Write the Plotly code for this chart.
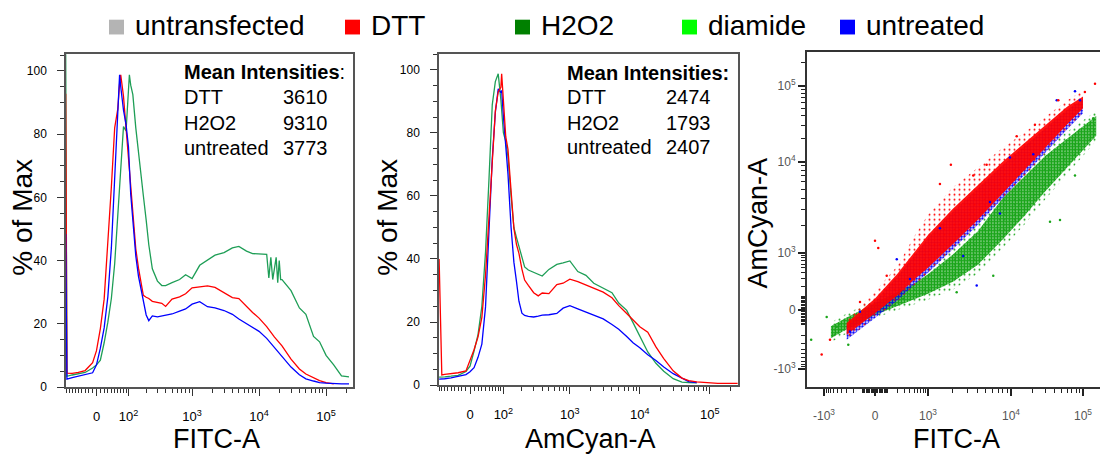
import numpy as np
import plotly.graph_objects as go

W, H = 1100, 459

# ---------------- legend ----------------
LEGEND_LABELS = ["untransfected", "DTT", "H2O2", "diamide", "untreated"]
LEGEND_COLORS = ["#b4b4b4", "#ff0000", "#008000", "#00ff00", "#0000ff"]

C_DTT = "#ff0000"
C_H2O2_LINE = "#1e9e56"
C_H2O2_DOT = "#1aa51a"
C_UNT = "#0000ff"

# ---------------- histogram 1: FITC-A (% of Max) ----------------
FITC_BINS = [-95, -90, -70, -50, -30, -10,
             0, 10, 20, 30, 40, 50, 60, 66, 70, 80, 90,
             100, 110, 120, 135, 150, 165, 180,
             200, 220, 250, 300, 350, 400, 500, 650, 800,
             1000, 1300, 1700, 2200, 3000, 4000, 5000, 6500, 8000,
             10000, 13000, 17000, 22000, 30000, 40000, 50000, 65000, 80000,
             100000, 130000, 170000, 220000]
FITC_DTT = [92.8, 4.4, 4.3, 4.6, 5.2, 7.7,
            11.5, 18.5, 27.8, 44.5, 63.3, 82, 88, 96, 98.8, 92, 82,
            70.8, 61.3, 53.5, 43.7, 37.6, 33, 29,
            28.4, 28, 27.1, 26.9, 26.5, 25.5, 27.8, 28.5, 29.5,
            31.4, 31.8, 32, 31.5, 29.8, 28.3, 28, 25.5, 23.6,
            21.8, 19.1, 15.8, 13, 8.8, 5.7, 4.1, 2.8, 2.0,
            1.4, 1.0, None, None]
FITC_UNTREATED = [48.4, 2.5, 3.0, 3.5, 4.0, 4.5,
                  7.0, 12.3, 18.7, 28.5, 44, 66.7, 87, 98.8, 95, 87.6, 83,
                  76, 61, 52, 41.5, 35, 30.8, 26.5,
                  22.8, 21, 22.5, 22.2, 22.4, 22.8, 23.1, 24, 24.7,
                  26.2, 27.0, 25.4, 25, 24.2, 23, 21.5, 20, 18.7,
                  17.6, 15.4, 12.5, 9.6, 6.3, 3.9, 2.6, 1.9, 1.4,
                  1.2, 1.0, 1.0, 1.0]
FITC_H2O2_BINS = [-95, -90, -70, -50, -30, -10,
                  0, 10, 20, 30, 40, 50, 60, 66, 70, 80, 90,
                  100, 104, 110, 120, 135, 150, 165, 180,
                  200, 220, 250, 300, 350, 400, 500, 650, 800,
                  1000, 1300, 1700, 2200, 3000, 4000, 5000, 6500, 8000,
                  10000, 13000, 14000, 15000, 16000, 17000, 18000, 19000, 20000, 21000,
                  22000, 30000, 40000, 50000, 65000, 80000,
                  100000, 130000, 170000, 220000]
FITC_H2O2 = [106, 3.4, 3.8, 4.2, 4.6, 6.0,
             7.0, 8.5, 14, 20.5, 28, 39, 54.6, 63.7, 69.3, 82.4, 81,
             96, 98.8, 95.5, 92.5, 82, 75, 67, 60.6,
             52.8, 45, 37.4, 33.5, 32.1, 32.1, 33, 34, 35.5,
             34.3, 38.5, 40, 41.7, 42.5, 44, 44.5, 43, 42.2,
             42, 42, 34.5, 41, 34, 38, 41, 33, 40, 34,
             34, 30.5, 25, 23, 16, 14.3,
             10, 7.0, 3.5, 3.2]

# ---------------- histogram 2: AmCyan-A (% of Max) ----------------
AMCYAN_BINS = [-90, -80, -70, -50, -30, -10,
               0, 10, 20, 30, 40, 50, 60, 70, 80, 90, 93,
               100, 110, 120, 135, 150, 165, 180,
               200, 220, 250, 300, 350, 400, 500, 650, 800,
               1000, 1300, 1700, 2200, 3000, 4000, 5000, 6500, 8000,
               10000, 13000, 17000, 22000, 30000, 40000, 50000, 65000, 80000,
               100000, 130000, 170000, 220000, 250000]
AMCYAN_DTT = [40, 3.2, 3.4, 3.6, 3.9, 4.5,
              7.6, 11.2, 15.3, 21.5, 34.9, 54.3, 73.6, 87, 93, 94.5, 98.8,
              89.6, 78.8, 74.8, 60.5, 49.7, 44.6, 41.8,
              36.8, 33.3, 31.6, 29.3, 28.3, 29.2, 29, 31.9, 32.3,
              33.6, 32.8, 31.7, 30.9, 29.5, 27.7, 25.2, 22.7, 20.7,
              18.5, 16.8, 12.1, 8.4, 4.5, 2.2, 1.4, 1.0, 0.8,
              0.6, 0.5, 0.5, 0.5, 0.5]
AMCYAN_UNTREATED = [1.9, 1.9, 2.0, 2.3, 2.7, 3.3,
                    4.2, 5.5, 8.8, 13, 24.8, 48.7, 71.9, 86.5, 94, 92.8, 93.5,
                    85.2, 76.8, 67, 50.1, 39, 32.8, 26.6,
                    22.8, 22.1, 21.8, 21.6, 21.9, 22.2, 22.3, 22.7, 24.4,
                    25.2, 24.2, 23.2, 22.4, 21, 19.2, 17.7, 15.4, 13.4,
                    11.8, 9.6, 7.8, 5.7, 3.6, 2.2, 1.1, 0.8, None,
                    None, None, None, None, None]
AMCYAN_H2O2 = [2.5, 2.5, 2.6, 2.8, 3.1, 4.3,
               6, 10.8, 16, 25, 42.2, 65.5, 89, 96.3, 98.8, 90.5, 86.3,
               80, 77.3, 72.4, 60, 50, 46.8, 43.8,
               40.1, 37.5, 36.5, 35.7, 35.2, 34.6, 36.7, 38.3, 38.8,
               39.4, 36, 34.8, 32.3, 30.7, 29.3, 26, 23.7, 19.8,
               15.3, 10.5, 6.9, 4.4, 2.0, 0.95, 0.8, 0.7, None,
               None, None, None, None, None]

MEAN_LABELS = ["DTT", "H2O2", "untreated"]
MEAN_FITC = ["3610", "9310", "3773"]
MEAN_AMCYAN = ["2474", "1793", "2407"]

HIST_TICKS = [0, 1e2, 1e3, 1e4, 1e5]
HIST_TICKTEXT = ["0", "10<sup>2</sup>", "10<sup>3</sup>", "10<sup>4</sup>", "10<sup>5</sup>"]
HIST_MINOR = ([-90, -80, -70, -60, -50, -40, -30, -20, -10, 10, 20, 30, 40, 50, 60, 70, 80, 90]
              + [200, 300, 400, 500, 600, 700, 800, 900]
              + [2000, 3000, 4000, 5000, 6000, 7000, 8000, 9000]
              + [20000, 30000, 40000, 50000, 60000, 70000, 80000, 90000, 200000])
PCT_TICKS = [0, 20, 40, 60, 80, 100]
PCT_MINOR = [5, 10, 15, 25, 30, 35, 45, 50, 55, 65, 70, 75, 85, 90, 95, 105]

# ---------------- dot plot: FITC-A vs AmCyan-A ----------------
# cloud outlines (AmCyan-A lower/upper limits read at given FITC-A values)
SC_DTT_X = [-300, 0, 200, 500, 1000, 2000, 4000, 8000, 15000, 30000, 60000, 100000]
SC_DTT_CORE_LO = [-195, -20, 108, 283, 505, 1250, 2320, 4530, 7800, 15200, 30700, 50200]
SC_DTT_CORE_HI = [-89, 84, 380, 1024, 1580, 3050, 5500, 10000, 17140, 30230, 52600, 72000]
SC_DTT_HALO_LO = [-255, -46, 62, 205, 380, 1077, 2050, 3900, 6730, 12700, 26000, 44500]
SC_DTT_HALO_HI = [-60, 144, 552, 1524, 2620, 5250, 8610, 15200, 23800, 39500, 63800, 86100]

SC_UNT_X = [-300, 0, 200, 500, 1000, 2000, 4000, 8000, 15000, 30000, 60000, 100000]
SC_UNT_LO = [-255, -53, 69, 217, 398, 1104, 2050, 4000, 6900, 13090, 26400, 43200]
SC_UNT_HI = [-112, 62, 330, 910, 1463, 2830, 5125, 9240, 15700, 27700, 48100, 66200]

SC_H2O2_X = [-700, -300, 0, 200, 500, 1000, 2000, 4000, 8000, 15000, 30000, 60000, 100000, 150000]
SC_H2O2_CORE_LO = [-235, -140, -32, 27.6, 77, 122, 252, 580, 1420, 2506, 4730, 8440, 14150, 21800]
SC_H2O2_CORE_HI = [-115, -48.5, 48.6, 136, 230, 370, 940, 1730, 4020, 6750, 11900, 19950, 29000, 39700]
SC_H2O2_HALO_LO = [-290, -180, -53, 0.7, 41, 73, 160, 383, 1137, 2005, 3880, 7100, 11830, 18800]
SC_H2O2_HALO_HI = [-85, -22, 70, 175, 295, 498, 1180, 2160, 5060, 8440, 15100, 24600, 34700, 46200]

# isolated events
SC_DTT_PTS_X = [0, 24, 1890, 5090, 12000, 21500, 45400, 106000, 144500, 3515, 1395, 91, -126, -273, -1070, -734, -247]
SC_DTT_PTS_Y = [1370, 1140, 9220, 9220, 21570, 30480, 64400, 82800, 106000, 7020, 5700, 344, 57, -118, -515, -255, -79]
SC_UNT_PTS_X = [43200, 77400, 90800, 9700, 5580, 3870, 2660, 1395, 403, 192, -126, -247, 7360, 20400]
SC_UNT_PTS_Y = [64400, 84300, 64400, 11270, 3620, 205, 873, 1870, 293, 748, -11, -162, 2710, 12440]
SC_H2O2_PTS_X = [-1450, -870, -273, -516, 47900, 34800, 77400, 6120, 2220, 283, 137000]
SC_H2O2_PTS_Y = [-255, -45, -325, -118, 2300, 2210, 7020, 344, 137, 82, 37250]

SC_TICKS = [-1e3, 0, 1e3, 1e4, 1e5]
SC_TICKTEXT = ["-10<sup>3</sup>", "0", "10<sup>3</sup>", "10<sup>4</sup>", "10<sup>5</sup>"]
SC_MINOR = ([-900, -800, -700, -600, -500, -400, -300, -200, -100]
            + [-90, -80, -70, -60, -50, -40, -30, -20, -10, 10, 20, 30, 40, 50, 60, 70, 80, 90]
            + [100, 200, 300, 400, 500, 600, 700, 800, 900]
            + [2000, 3000, 4000, 5000, 6000, 7000, 8000, 9000]
            + [20000, 30000, 40000, 50000, 60000, 70000, 80000, 90000, 200000])


# ---------------- axis scales ----------------
LN10 = np.log(10.0)


def biex(v, c=75.0):
    """arcsinh (biexponential-like) display scale used by the histograms"""
    return np.arcsinh(np.asarray(v, dtype=float) / c) / LN10


SC_C = 150.0
SC_ANCHOR_V = np.array([-1e4, -1e3, 0, 1e3, 1e4, 1e5, 1e6])
SCX_ANCHOR_D = [-63, 17, 68, 121, 204, 276, 351]
SCY_ANCHOR_D = [-62, 18, 78, 136, 229, 306, 383]


def sc_x(v):
    return np.interp(np.arcsinh(np.asarray(v, dtype=float) / SC_C), np.arcsinh(SC_ANCHOR_V / SC_C), SCX_ANCHOR_D)


def sc_y(v):
    return np.interp(np.arcsinh(np.asarray(v, dtype=float) / SC_C), np.arcsinh(SC_ANCHOR_V / SC_C), SCY_ANCHOR_D)


def PX(x):
    return x / W


def PY(y):
    return 1 - y / H


fig = go.Figure()


def hist_line(xv, yv, color, xa, ya):
    fig.add_trace(go.Scatter(x=biex(xv), y=yv, mode="lines", line=dict(color=color, width=1.3),
                             xaxis=xa, yaxis=ya, connectgaps=False, hoverinfo="skip"))


# histogram 1 (FITC-A)
hist_line(FITC_H2O2_BINS, FITC_H2O2, C_H2O2_LINE, "x", "y")
hist_line(FITC_BINS, FITC_DTT, C_DTT, "x", "y")
hist_line(FITC_BINS, FITC_UNTREATED, C_UNT, "x", "y")
# histogram 2 (AmCyan-A)
hist_line(AMCYAN_BINS, AMCYAN_H2O2, C_H2O2_LINE, "x2", "y2")
hist_line(AMCYAN_BINS, AMCYAN_UNTREATED, C_UNT, "x2", "y2")
hist_line(AMCYAN_BINS, AMCYAN_DTT, C_DTT, "x2", "y2")


def band(xv, lo, hi, color, solid_alpha=None, dots=None):
    xv = list(xv)
    xs = list(sc_x(xv)) + list(sc_x(xv[::-1]))
    ys = list(sc_y(hi)) + list(sc_y(list(lo)[::-1]))
    kw = {}
    if dots is not None:
        size, solidity = dots
        kw["fillpattern"] = dict(shape=".", fgcolor=color, bgcolor="rgba(255,255,255,0)",
                                 size=size, solidity=solidity, fillmode="replace")
        kw["fillcolor"] = "rgba(255,255,255,0)"
    else:
        r, g, b = int(color[1:3], 16), int(color[3:5], 16), int(color[5:7], 16)
        kw["fillcolor"] = "rgba(%d,%d,%d,%.2f)" % (r, g, b, solid_alpha)
    fig.add_trace(go.Scatter(x=xs, y=ys, mode="lines", fill="toself",
                             line=dict(width=0, color="rgba(0,0,0,0)"), xaxis="x3", yaxis="y3",
                             hoverinfo="skip", **kw))


def dots(xv, yv, color):
    fig.add_trace(go.Scatter(x=sc_x(xv), y=sc_y(yv), mode="markers",
                             marker=dict(color=color, size=2.5, line=dict(width=0)),
                             xaxis="x3", yaxis="y3", hoverinfo="skip"))


band(SC_H2O2_X, SC_H2O2_HALO_LO, SC_H2O2_HALO_HI, C_H2O2_DOT, dots=(5, 0.12))
band(SC_H2O2_X, SC_H2O2_CORE_LO, SC_H2O2_CORE_HI, C_H2O2_DOT, dots=(3, 0.8))
band(SC_UNT_X, SC_UNT_LO, SC_UNT_HI, C_UNT, dots=(3, 0.55))
band(SC_DTT_X, SC_DTT_HALO_LO, SC_DTT_HALO_HI, C_DTT, dots=(5, 0.12))
band(SC_DTT_X, SC_DTT_CORE_LO, SC_DTT_CORE_HI, C_DTT, solid_alpha=0.92)
dots(SC_H2O2_PTS_X, SC_H2O2_PTS_Y, C_H2O2_DOT)
dots(SC_UNT_PTS_X, SC_UNT_PTS_Y, C_UNT)
dots(SC_DTT_PTS_X, SC_DTT_PTS_Y, C_DTT)

SANS = "Liberation Sans, Arial, sans-serif"

hist_x_common = dict(
    tickmode="array", tickvals=list(biex(HIST_TICKS)), ticktext=HIST_TICKTEXT,
    ticks="outside", ticklen=7, tickwidth=1, tickcolor="#333",
    minor=dict(tickmode="array", tickvals=list(biex(HIST_MINOR)), ticks="outside", ticklen=4,
               tickwidth=1, tickcolor="#333", showgrid=False),
    showline=True, linecolor="#555", linewidth=1.5, mirror=True,
    showgrid=False, zeroline=False, tickfont=dict(family=SANS, size=13, color="#000"),
    ticklabelstandoff=10,
)
hist_y_common = dict(
    tickmode="array", tickvals=PCT_TICKS, ticks="outside", ticklen=7, tickwidth=1, tickcolor="#333",
    minor=dict(tickmode="array", tickvals=PCT_MINOR, ticks="outside", ticklen=4, tickwidth=1,
               tickcolor="#333", showgrid=False),
    showline=True, linecolor="#555", linewidth=1.5, mirror=True,
    showgrid=False, zeroline=False, tickfont=dict(family=SANS, size=12, color="#000"),
    ticklabelstandoff=8,
)

fig.update_layout(
    width=W, height=H, margin=dict(l=0, r=0, t=0, b=0),
    showlegend=False, plot_bgcolor="white", paper_bgcolor="white",
    font=dict(family=SANS, color="#000"),
    xaxis=dict(domain=[PX(66), PX(353)], range=[-0.455, 3.828], anchor="y", **hist_x_common),
    yaxis=dict(domain=[PY(393), PY(55)], range=[0, 105.3], anchor="x", **hist_y_common),
    xaxis2=dict(domain=[PX(439), PX(738)], range=[-0.443, 3.829], anchor="y2", **hist_x_common),
    yaxis2=dict(domain=[PY(391), PY(55)], range=[0, 105], anchor="x2", **hist_y_common),
    xaxis3=dict(domain=[PX(807), 1.0], range=[0, 293], anchor="y3",
                tickmode="array", tickvals=list(sc_x(SC_TICKS)), ticktext=SC_TICKTEXT,
                ticks="outside", ticklen=7, tickwidth=1.5, tickcolor="#222",
                minor=dict(tickmode="array", tickvals=list(sc_x(SC_MINOR)), ticks="outside",
                           ticklen=4, tickwidth=1, tickcolor="#222", showgrid=False),
                showline=True, linecolor="#333", linewidth=2, mirror=True,
                showgrid=False, zeroline=False,
                tickfont=dict(family=SANS, size=12, color="#555"), ticklabelstandoff=10),
    yaxis3=dict(domain=[PY(393), PY(53)], range=[0, 340], anchor="x3",
                tickmode="array", tickvals=list(sc_y(SC_TICKS)), ticktext=SC_TICKTEXT,
                ticks="outside", ticklen=7, tickwidth=1.5, tickcolor="#222",
                minor=dict(tickmode="array", tickvals=list(sc_y(SC_MINOR)), ticks="outside",
                           ticklen=4, tickwidth=1, tickcolor="#222", showgrid=False),
                showline=True, linecolor="#333", linewidth=2, mirror=False,
                showgrid=False, zeroline=False,
                tickfont=dict(family=SANS, size=12, color="#555"), ticklabelstandoff=0),
)

annotations = []
shapes = []

# legend (drawn as coloured squares + labels)
LEG_SQ_X = [109, 345, 515, 682, 840]
for lab, col, sx in zip(LEGEND_LABELS, LEGEND_COLORS, LEG_SQ_X):
    shapes.append(dict(type="rect", xref="paper", yref="paper", x0=PX(sx), x1=PX(sx + 15),
                       y0=PY(35), y1=PY(20), fillcolor=col, line=dict(width=0)))
    annotations.append(dict(text=lab, xref="paper", yref="paper", x=PX(sx + 24), y=PY(26),
                            xanchor="left", yanchor="middle", showarrow=False,
                            font=dict(family=SANS, size=28, color="#000")))


# mean intensity tables
def table(x_lab, x_num, header, nums, baselines):
    fs = 20
    annotations.append(dict(text=header, xref="paper", yref="paper", x=PX(x_lab), y=PY(baselines[0] - 7),
                            xanchor="left", yanchor="middle", showarrow=False,
                            font=dict(family=SANS, size=fs, color="#000")))
    for lab, num, b in zip(MEAN_LABELS, nums, baselines[1:]):
        annotations.append(dict(text=lab, xref="paper", yref="paper", x=PX(x_lab), y=PY(b - 7),
                                xanchor="left", yanchor="middle", showarrow=False,
                                font=dict(family=SANS, size=fs, color="#000")))
        annotations.append(dict(text=num, xref="paper", yref="paper", x=PX(x_num), y=PY(b - 7),
                                xanchor="left", yanchor="middle", showarrow=False,
                                font=dict(family=SANS, size=fs, color="#000")))


table(182, 281, "<b>Mean Intensities</b>:", MEAN_FITC, [80, 105.7, 132, 157.3])
table(565, 664, "<b>Mean Intensities:</b>", MEAN_AMCYAN, [80.7, 105.3, 131.7, 156.7])


# axis titles
def title(text, x, y, angle=0, size=27):
    annotations.append(dict(text=text, xref="paper", yref="paper", x=PX(x), y=PY(y),
                            xanchor="center", yanchor="middle", showarrow=False, textangle=angle,
                            font=dict(family=SANS, size=size, color="#000")))


title("% of Max", 23, 221, -90, 28)
title("% of Max", 388, 221, -90, 28)
title("AmCyan-A", 758, 227, -90, 27)
title("FITC-A", 216, 446)
title("AmCyan-A", 590, 446)
title("FITC-A", 956, 446)

fig.update_layout(annotations=annotations, shapes=shapes)

fig.write_html("out.html", config={"displayModeBar": False},
               post_script="document.body.style.margin='0';")
